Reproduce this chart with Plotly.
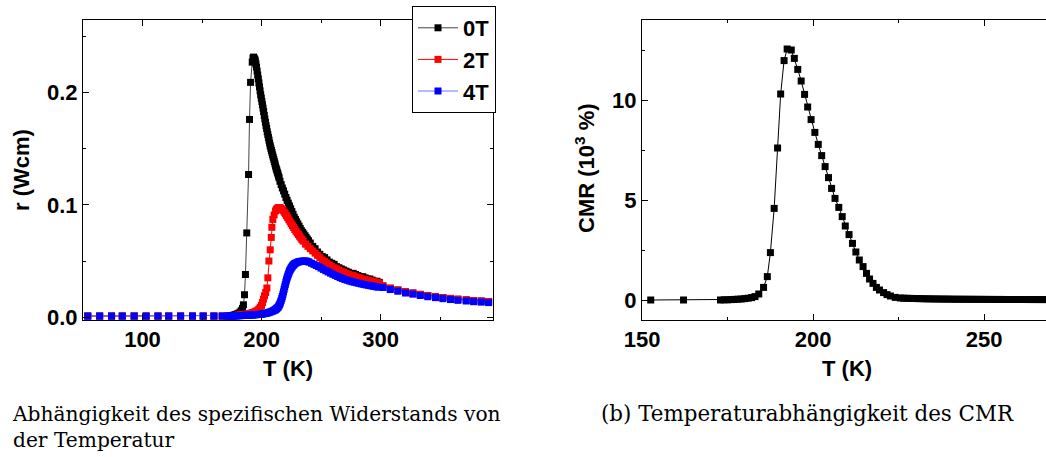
import plotly.graph_objects as go

# ---------------- data ----------------
t_0T = [54, 64, 74, 83, 93, 103, 113, 122, 132, 142, 151, 160, 167, 172,
        173, 174, 175, 176, 177, 178, 179, 180, 181, 182, 183, 184, 184.8,
        185.7, 186.5, 187.6, 189.1, 189.9, 190.8, 192.2,
        192.8, 193.3, 193.8, 194.3, 194.8, 195.3, 195.8, 196.3, 196.8, 197.3, 197.8, 198.3, 198.8, 199.3, 199.8,
        200.3, 200.8, 201.3, 201.8, 202.3, 202.8, 203.3, 203.8, 204.3, 204.8, 205.3, 205.8, 206.3, 206.8, 207.3,
        207.8, 208.3, 208.8, 209.3, 209.8, 210.3, 210.8, 211.3, 211.8, 212.3, 212.8, 213.3, 213.8, 214.3, 214.8,
        215.5, 216.5, 217.5, 218.5, 219.5, 220.5, 221.5, 222.5, 223.5, 224.5, 225.5, 226.5, 227.5, 228.5, 229.5,
        230.5, 231.5, 232.5, 233.5, 234.5, 235.5, 236.5, 237.5, 238.5, 239.5,
        241, 243, 245, 247, 249, 251, 253, 255, 257, 259, 261, 263, 265, 267, 269, 271, 273, 275, 277, 279,
        281, 283, 285, 287, 289, 291, 293, 295, 297, 299,
        302, 308.2, 314.6, 321, 327.2, 333.4, 339.7, 346.2, 352.4, 358.8, 365, 372, 378.2, 384.6, 390.8]
rho_0T = [0.001, 0.001, 0.001, 0.001, 0.001, 0.001, 0.001, 0.001, 0.001, 0.001, 0.001, 0.001, 0.001, 0.001,
          0.001, 0.0012, 0.0014, 0.0016, 0.0019, 0.0022, 0.0026, 0.003, 0.0036, 0.0045, 0.0058, 0.0078, 0.011,
          0.020, 0.038, 0.075, 0.127, 0.176, 0.209, 0.227,
          0.2305, 0.2315, 0.2305, 0.2295, 0.228, 0.2255, 0.2225, 0.219, 0.2155, 0.212, 0.2085, 0.205, 0.2015, 0.198, 0.195,
          0.192, 0.189, 0.186, 0.183, 0.1795, 0.1765, 0.1735, 0.1705, 0.168, 0.165, 0.1625, 0.16, 0.1575, 0.155, 0.1525,
          0.1505, 0.1485, 0.1465, 0.1445, 0.1425, 0.1405, 0.1385, 0.1365, 0.1345, 0.1325, 0.131, 0.129, 0.1275, 0.1255, 0.124,
          0.121, 0.118, 0.115, 0.1125, 0.1095, 0.1065, 0.104, 0.1015, 0.099, 0.0965, 0.094, 0.0915, 0.089, 0.087, 0.085,
          0.083, 0.081, 0.079, 0.077, 0.0755, 0.074, 0.0725, 0.071, 0.0695, 0.068,
          0.066, 0.063, 0.061, 0.058, 0.056, 0.054, 0.053, 0.051, 0.049, 0.048, 0.047, 0.045, 0.044, 0.043, 0.042, 0.041, 0.040, 0.039, 0.039, 0.038,
          0.037, 0.036, 0.036, 0.035, 0.034, 0.034, 0.033, 0.032, 0.032, 0.031,
          0.0278, 0.0258, 0.0242, 0.0226, 0.0215, 0.0203, 0.0192, 0.0184, 0.0175, 0.0167, 0.0160, 0.0154, 0.0148, 0.0144, 0.0140]

t_2T = [54, 64, 74, 83, 93, 103, 113, 122, 132, 142, 151, 160, 167, 172,
        173, 174, 175, 176, 177, 178, 179, 180, 181, 182, 183, 184, 185, 186, 187, 188, 189, 190, 191, 192,
        193, 194, 195, 196, 197, 198, 199, 200,
        200.8, 201.6, 202.5, 203.5, 204.5, 205.3, 206.2, 207.3, 208.2, 208.7, 209.5, 210.6, 211.8, 212.5, 213.3, 214.2, 215.1,
        216, 217, 218, 219, 220, 221, 222, 223, 224, 225, 226, 227, 228, 229, 230, 231, 232, 233, 234, 235,
        237, 239, 241, 243, 245, 247, 249, 251, 253, 255, 257, 259, 261, 263, 265, 267, 269, 271, 273, 275,
        277, 279, 281, 283, 285, 287, 289, 291, 293, 295, 297, 299,
        302, 308.2, 314.6, 321, 327.2, 333.4, 339.7, 346.2, 352.4, 358.8, 365, 372, 378.2, 384.6, 390.8]
rho_2T = [0.001, 0.001, 0.001, 0.001, 0.001, 0.001, 0.001, 0.001, 0.001, 0.001, 0.001, 0.001, 0.001, 0.001,
          0.001, 0.0011, 0.0012, 0.0013, 0.0014, 0.0015, 0.0016, 0.0017, 0.0018, 0.0019, 0.002, 0.0021, 0.0022, 0.0024, 0.0026, 0.0028, 0.003, 0.0032, 0.0035, 0.0038,
          0.0041, 0.0045, 0.005, 0.0056, 0.0064, 0.0074, 0.0088, 0.0105,
          0.013, 0.016, 0.019, 0.022, 0.026, 0.035, 0.050, 0.060, 0.071, 0.080, 0.087, 0.091, 0.0946, 0.096, 0.097, 0.0975, 0.0976,
          0.0972, 0.0963, 0.095, 0.0935, 0.092, 0.0903, 0.0885, 0.0867, 0.085, 0.0832, 0.0815, 0.0798, 0.078, 0.0765, 0.075, 0.0735, 0.072, 0.0705, 0.069, 0.0677,
          0.065, 0.063, 0.061, 0.059, 0.057, 0.055, 0.053, 0.051, 0.0495, 0.048, 0.0465, 0.045, 0.044, 0.043, 0.042, 0.041, 0.040, 0.039, 0.038, 0.0375,
          0.037, 0.036, 0.0355, 0.035, 0.034, 0.0335, 0.033, 0.0325, 0.032, 0.0315, 0.031, 0.0305,
          0.0278, 0.0258, 0.0242, 0.0226, 0.0215, 0.0203, 0.0192, 0.0184, 0.0175, 0.0167, 0.0160, 0.0154, 0.0148, 0.0144, 0.0140]

t_4T = [54, 64, 74, 83, 93, 103, 113, 122, 132, 142, 151, 160, 167, 172,
        173, 174, 175, 176, 177, 178, 179, 180, 181, 182, 183, 184, 185, 186, 187, 188, 189, 190, 191, 192,
        193, 194, 195, 196, 197, 198, 199, 200, 201, 202, 203, 204, 205, 206, 207, 208, 209, 210, 211, 211.5,
        212, 212.5, 213, 213.5, 214, 214.5, 215, 215.5, 216, 216.5, 217, 217.5, 218, 218.5, 219, 219.5, 220,
        220.5, 221, 221.5, 222, 222.5, 223, 223.5, 224, 224.5, 225, 225.5, 226, 226.5, 227, 227.5, 228,
        229, 230, 231, 232, 233, 234, 235, 236, 237, 238, 239, 240,
        242, 244, 246, 248, 250, 252, 254, 256, 258, 260, 262, 264, 266, 268, 270, 272, 274, 276, 278, 280,
        282, 284, 286, 288, 290, 292, 294, 296, 298,
        302, 308.2, 314.6, 321, 327.2, 333.4, 339.7, 346.2, 352.4, 358.8, 365, 372, 378.2, 384.6, 390.8]
rho_4T = [0.001, 0.001, 0.001, 0.001, 0.001, 0.001, 0.001, 0.001, 0.001, 0.001, 0.001, 0.001, 0.001, 0.001,
          0.001, 0.001, 0.001, 0.0011, 0.0011, 0.0012, 0.0012, 0.0013, 0.0013, 0.0014, 0.0014, 0.0015, 0.0015, 0.0016, 0.0016, 0.0017, 0.0018, 0.0018, 0.0019, 0.002,
          0.002, 0.0021, 0.0022, 0.0023, 0.0024, 0.0025, 0.0026, 0.0027, 0.0029, 0.0031, 0.0033, 0.0035, 0.0038, 0.0041, 0.0045, 0.0049, 0.0053, 0.0058, 0.0063, 0.0066,
          0.007, 0.0075, 0.008, 0.0085, 0.009, 0.010, 0.011, 0.012, 0.0135, 0.015, 0.0167, 0.0185, 0.0204, 0.0225, 0.0248, 0.027, 0.0292,
          0.0314, 0.0333, 0.035, 0.0366, 0.0382, 0.0396, 0.041, 0.042, 0.043, 0.0439, 0.0447, 0.0455, 0.0461, 0.0467, 0.0472, 0.0478,
          0.0483, 0.0488, 0.0492, 0.0495, 0.0497, 0.0498, 0.0499, 0.0500, 0.0499, 0.0498, 0.0495, 0.0490,
          0.0480, 0.0470, 0.0460, 0.0450, 0.0437, 0.0425, 0.0414, 0.0403, 0.0392, 0.0382, 0.0372, 0.0362, 0.0352, 0.0344, 0.0336, 0.0329, 0.0322, 0.0316, 0.0311, 0.0306,
          0.0301, 0.0296, 0.0291, 0.0287, 0.0283, 0.0279, 0.0275, 0.0271, 0.0267,
          0.0264, 0.0246, 0.0231, 0.0215, 0.0205, 0.0193, 0.0182, 0.0174, 0.0165, 0.0157, 0.0150, 0.0144, 0.0138, 0.0134, 0.0130]

t_cmr = [152.5, 162.1, 172.9, 174, 175, 176, 177, 178, 179, 180, 181, 182, 183, 184.1, 185.5, 186.6, 187.5, 188.6,
         189.6, 190.5, 191.5, 192.4, 193.6, 194.5, 195.5, 196.5, 197.5, 198.4, 199.4, 200.5, 201.5, 202.5, 203.5,
         204.5, 205.4, 206.4, 207.5, 208.5, 209.4, 210.5, 211.5, 212.5, 213.5, 214.6, 215.6, 216.5, 217.5, 218.5,
         219.4, 220.6, 221.6, 222.6, 224, 225.5,
         226.5, 227.5, 228.5, 229.5, 230.5, 231.5, 232.5, 233.5, 234.5, 235.5, 236.5, 237.5, 238.5, 239.5, 240.5,
         241.5, 242.5, 243.5, 244.5, 245.5, 246.5, 247.5, 248.5, 249.5, 250.5, 251.5, 252.5, 253.5, 254.5, 255.5,
         256.5, 257.5, 258.5, 259.5, 260.5, 261.5, 262.5, 263.5, 264.5, 265.5, 266.5, 267.5, 268.5, 269.5]
cmr = [0.0, 0.0, 0.0, 0.01, 0.01, 0.02, 0.03, 0.04, 0.05, 0.07, 0.09, 0.12, 0.17, 0.30, 0.63, 1.17, 2.37, 4.58,
       7.6, 10.3, 11.97, 12.55, 12.5, 12.08, 11.53, 10.95, 10.28, 9.65, 9.02, 8.38, 7.78, 7.22, 6.67,
       6.12, 5.58, 5.08, 4.63, 4.17, 3.7, 3.27, 2.83, 2.4, 2.0, 1.67, 1.33, 1.05, 0.83, 0.63,
       0.5, 0.37, 0.27, 0.2, 0.13, 0.1,
       0.09, 0.085, 0.08, 0.075, 0.07, 0.066, 0.062, 0.058, 0.055, 0.052, 0.05, 0.048, 0.046, 0.044, 0.042,
       0.04, 0.039, 0.038, 0.037, 0.036, 0.035, 0.034, 0.033, 0.032, 0.031, 0.03, 0.029, 0.028, 0.028, 0.027,
       0.026, 0.026, 0.025, 0.025, 0.024, 0.024, 0.023, 0.023, 0.022, 0.022, 0.021, 0.021, 0.02, 0.02]

left_ticks_y = [0.0, 0.1, 0.2]
left_ticks_x = [100, 200, 300]
right_ticks_y = [0, 5, 10]
right_ticks_x = [150, 200, 250]

for a_, b_ in [(t_0T, rho_0T), (t_2T, rho_2T), (t_4T, rho_4T), (t_cmr, cmr)]:
    assert len(a_) == len(b_), (len(a_), len(b_))

# ---------------- layout helpers ----------------
W, H = 1046, 457
def fx(px):
    return px / W
def fy(py):
    return 1 - py / H

SANS = "Liberation Sans, Arial, sans-serif"
SERIF = "DejaVu Serif, serif"
TICKFONT = dict(family=SANS, size=22, color="black", weight="bold")

fig = go.Figure()

series = [
    ("0T", t_0T, rho_0T, "black", "#444444"),
    ("2T", t_2T, rho_2T, "#ff0000", "#ff0000"),
    ("4T", t_4T, rho_4T, "#0000ff", "#7373ff"),
]
for name, tx, ry, mc, lc in series:
    fig.add_trace(go.Scatter(
        x=tx, y=ry, name=name, mode="lines+markers",
        line=dict(color=lc, width=1),
        marker=dict(symbol="square", size=7, color=mc, line=dict(width=0)),
        xaxis="x", yaxis="y"))

fig.add_trace(go.Scatter(
    x=t_cmr, y=cmr, mode="lines+markers", showlegend=False,
    line=dict(color="black", width=1),
    marker=dict(symbol="square", size=7, color="black", line=dict(width=0)),
    xaxis="x2", yaxis="y2"))

common = dict(showline=True, linecolor="black", linewidth=1, ticks="inside",
              ticklen=6, tickwidth=1, tickcolor="black", showgrid=False,
              zeroline=False, tickfont=TICKFONT, automargin=False)

ydom = [fy(320), fy(20)]
fig.update_layout(
    template="none",
    width=W, height=H, autosize=False,
    margin=dict(l=0, r=0, t=0, b=0, autoexpand=False),
    paper_bgcolor="white", plot_bgcolor="white",
    xaxis=dict(domain=[fx(83), fx(493)], range=[50, 394.5], anchor="y",
               tickvals=left_ticks_x, mirror="ticks",
               minor=dict(dtick=50, tick0=0, ticks="inside", ticklen=3, tickcolor="black"),
               **common),
    yaxis=dict(domain=ydom, range=[-0.0025, 0.2645], anchor="x",
               tickvals=left_ticks_y, tickformat=".1f", mirror="ticks",
               minor=dict(dtick=0.05, tick0=0, ticks="inside", ticklen=3, tickcolor="black"),
               **common),
    xaxis2=dict(domain=[fx(642), 1.0], range=[149.95, 268.1], anchor="y2",
                tickvals=right_ticks_x, mirror="ticks",
                minor=dict(dtick=25, tick0=0, ticks="inside", ticklen=3, tickcolor="black"),
                **common),
    yaxis2=dict(domain=ydom, range=[-1, 14], anchor="x2",
                tickvals=right_ticks_y, mirror=False,
                minor=dict(dtick=2.5, tick0=0, ticks="inside", ticklen=3, tickcolor="black"),
                **common),
    legend=dict(x=fx(412), y=fy(6), xanchor="left", yanchor="top",
                bgcolor="white", bordercolor="black", borderwidth=1,
                font=dict(family=SANS, size=22, color="black", weight="bold"),
                itemwidth=40, tracegroupgap=0),
    showlegend=True,
)

title_font = dict(family=SANS, size=22, color="black", weight="bold")
annotations = [
    dict(text="T (K)", x=fx(288), y=fy(368), xanchor="center", yanchor="middle", font=title_font),
    dict(text="T (K)", x=fx(847), y=fy(368), xanchor="center", yanchor="middle", font=title_font),
    dict(text="r (Wcm)", x=fx(22), y=fy(170), xanchor="center", yanchor="middle", textangle=-90, font=title_font),
    dict(text="CMR (10<sup>3</sup> %)", x=fx(585), y=fy(168), xanchor="center", yanchor="middle", textangle=-90, font=title_font),
    dict(text="Abhängigkeit des spezifischen Widerstands von<br>der Temperatur", x=fx(10), y=fy(400),
         xanchor="left", yanchor="top", align="left",
         font=dict(family=SERIF, size=20.2, color="black")),
    dict(text="(b) Temperaturabhängigkeit des CMR", x=fx(807), y=fy(413), xanchor="center", yanchor="middle",
         font=dict(family=SERIF, size=21.4, color="black")),
]
for a in annotations:
    a.update(xref="paper", yref="paper", showarrow=False)
fig.update_layout(annotations=annotations)

fig.write_html("out.html")
